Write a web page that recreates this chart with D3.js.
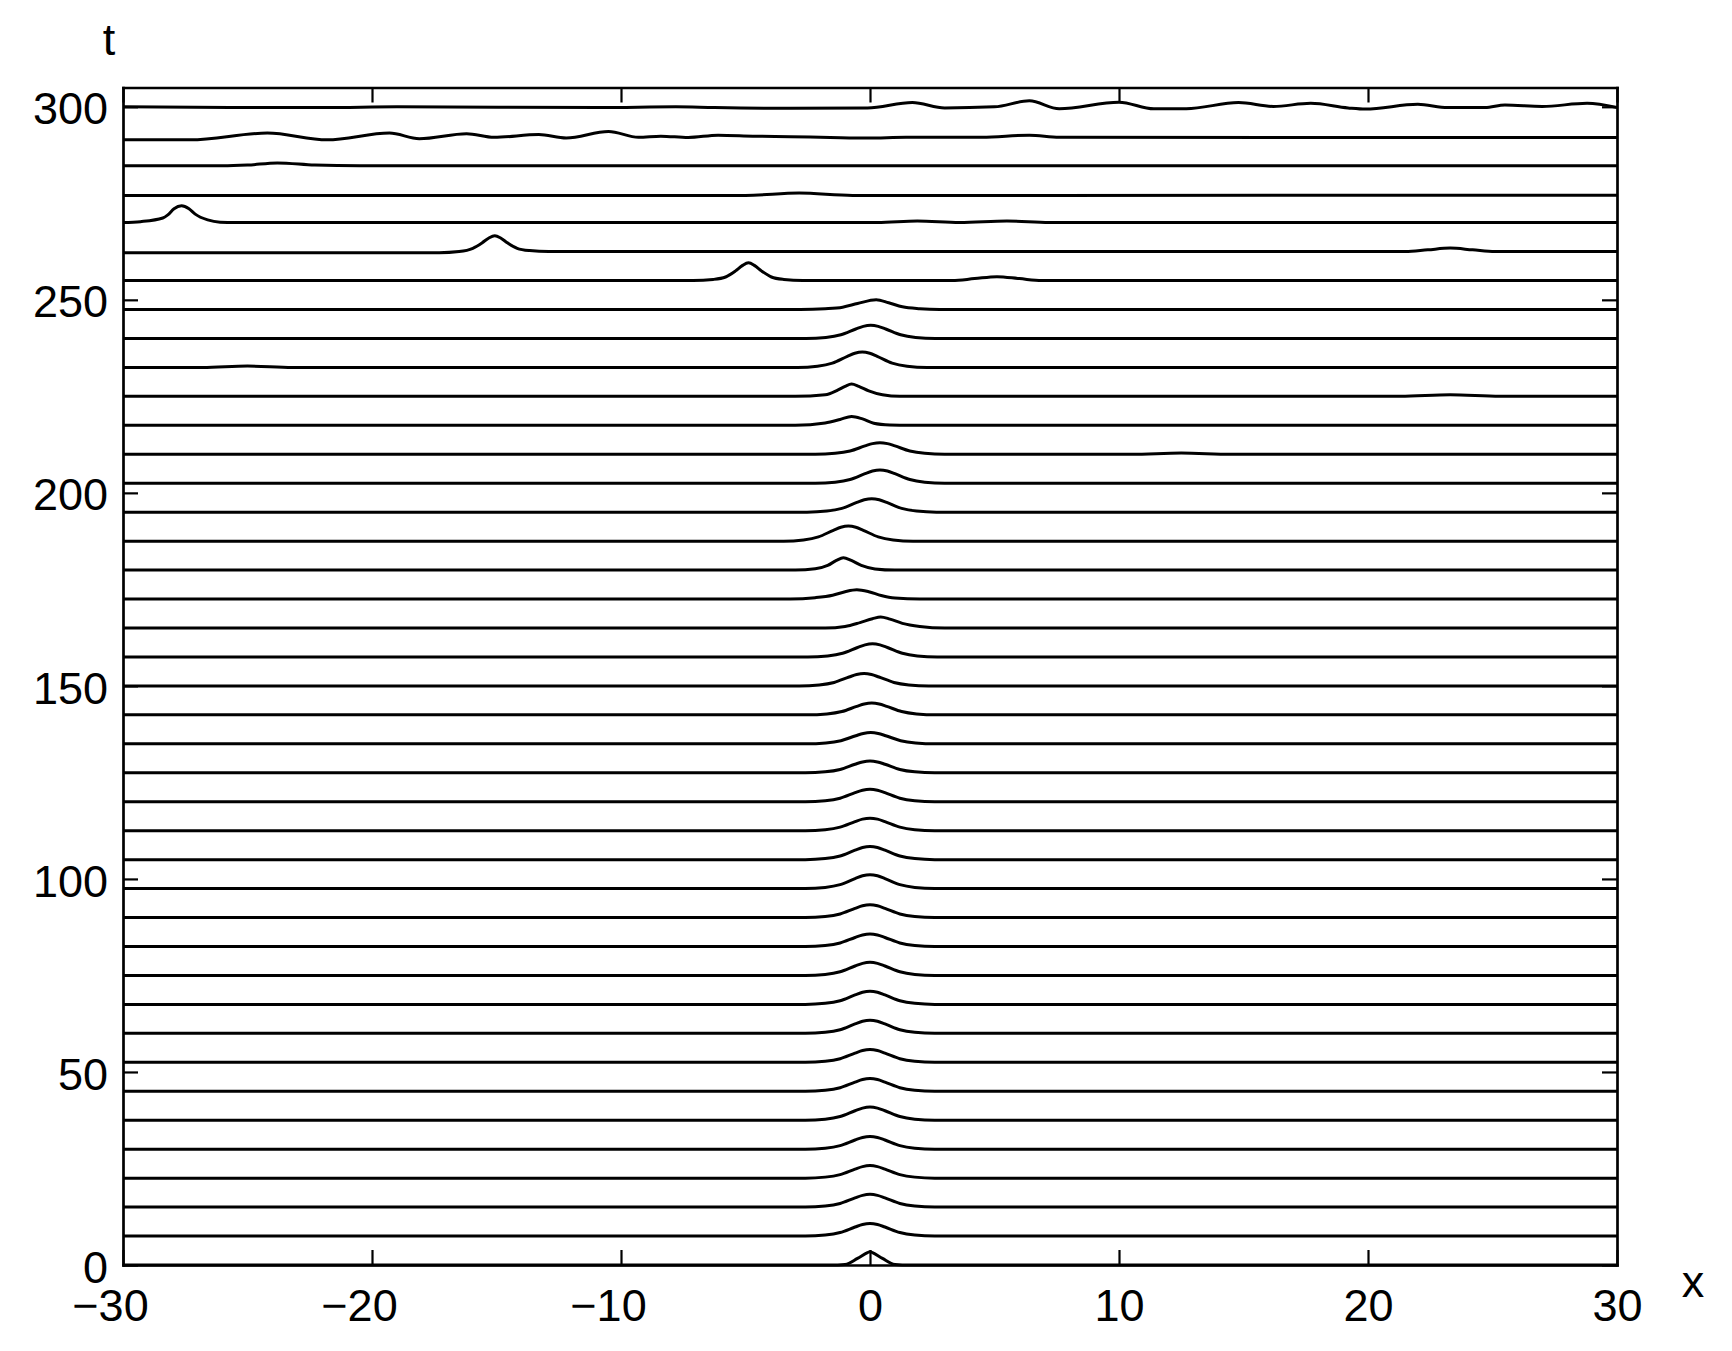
<!DOCTYPE html>
<html>
<head>
<meta charset="utf-8">
<script src="https://cdn.jsdelivr.net/npm/d3@7"></script>
<style>
  body { margin: 0; background: #fff; }
  svg text { font-family: "Liberation Sans", Arial, Helvetica, sans-serif; }
</style>
</head>
<body>
<div id="chart"></div>
<script>
// Baseline time of every trace, bottom to top
const times = [0, 7.5, 15, 22.5, 30, 37.5, 45, 52.5, 60, 67.5, 75, 82.5, 90, 97.5,
  105, 112.5, 120, 127.5, 135, 142.5, 150, 157.5, 165, 172.5, 180, 187.5, 195,
  202.5, 210, 217.5, 225, 232.5, 240, 247.5, 255, 262.5, 270, 277.5, 285, 292.5, 300];

// Each trace is a list of [x, height above its baseline]
// t = 0 ... 127.5 : single pulse sitting at x = 0
const tracesEarly = [
  [[-30,0],[-1.6,0],[-1.0,0.15],[-0.5,1.7],[-0.1,3.2],[0,3.45],[0.1,3.2],[0.5,1.7],[1.0,0.15],[1.6,0],[30,0]],
  [[-30,0],[-2.6,0],[-1.8,0.26],[-1.2,0.91],[-0.6,2.34],[-0.3,2.99],[0,3.25],[0.3,2.99],[0.6,2.34],[1.2,0.91],[1.8,0.26],[2.6,0],[30,0]],
  [[-30,0],[-2.6,0],[-1.8,0.26],[-1.2,0.92],[-0.6,2.38],[-0.3,3.04],[0,3.3],[0.3,3.04],[0.6,2.38],[1.2,0.92],[1.8,0.26],[2.6,0],[30,0]],
  [[-30,0],[-2.6,0],[-1.8,0.26],[-1.2,0.91],[-0.6,2.34],[-0.3,2.99],[0,3.25],[0.3,2.99],[0.6,2.34],[1.2,0.91],[1.8,0.26],[2.6,0],[30,0]],
  [[-30,0],[-2.6,0],[-1.8,0.26],[-1.2,0.92],[-0.6,2.38],[-0.3,3.04],[0,3.3],[0.3,3.04],[0.6,2.38],[1.2,0.92],[1.8,0.26],[2.6,0],[30,0]],
  [[-30,0],[-2.6,0],[-1.8,0.27],[-1.2,0.95],[-0.6,2.45],[-0.3,3.13],[0,3.4],[0.3,3.13],[0.6,2.45],[1.2,0.95],[1.8,0.27],[2.6,0],[30,0]],
  [[-30,0],[-2.6,0],[-1.8,0.26],[-1.2,0.92],[-0.6,2.38],[-0.3,3.04],[0,3.3],[0.3,3.04],[0.6,2.38],[1.2,0.92],[1.8,0.26],[2.6,0],[30,0]],
  [[-30,0],[-2.6,0],[-1.8,0.26],[-1.2,0.92],[-0.6,2.38],[-0.3,3.04],[0,3.3],[0.3,3.04],[0.6,2.38],[1.2,0.92],[1.8,0.26],[2.6,0],[30,0]],
  [[-30,0],[-2.6,0],[-1.8,0.27],[-1.2,0.95],[-0.6,2.45],[-0.3,3.13],[0,3.4],[0.3,3.13],[0.6,2.45],[1.2,0.95],[1.8,0.27],[2.6,0],[30,0]],
  [[-30,0],[-2.6,0],[-1.8,0.27],[-1.2,0.95],[-0.6,2.45],[-0.3,3.13],[0,3.4],[0.3,3.13],[0.6,2.45],[1.2,0.95],[1.8,0.27],[2.6,0],[30,0]],
  [[-30,0],[-2.6,0],[-1.8,0.27],[-1.2,0.95],[-0.6,2.45],[-0.3,3.13],[0,3.4],[0.3,3.13],[0.6,2.45],[1.2,0.95],[1.8,0.27],[2.6,0],[30,0]],
  [[-30,0],[-2.6,0],[-1.8,0.26],[-1.2,0.91],[-0.6,2.34],[-0.3,2.99],[0,3.25],[0.3,2.99],[0.6,2.34],[1.2,0.91],[1.8,0.26],[2.6,0],[30,0]],
  [[-30,0],[-2.6,0],[-1.8,0.26],[-1.2,0.92],[-0.6,2.38],[-0.3,3.04],[0,3.3],[0.3,3.04],[0.6,2.38],[1.2,0.92],[1.8,0.26],[2.6,0],[30,0]],
  [[-30,0],[-2.6,0],[-1.8,0.29],[-1.2,1.01],[-0.6,2.59],[-0.3,3.31],[0,3.6],[0.3,3.31],[0.6,2.59],[1.2,1.01],[1.8,0.29],[2.6,0],[30,0]],
  [[-30,0],[-2.6,0],[-1.8,0.27],[-1.2,0.95],[-0.6,2.45],[-0.3,3.13],[0,3.4],[0.3,3.13],[0.6,2.45],[1.2,0.95],[1.8,0.27],[2.6,0],[30,0]],
  [[-30,0],[-2.6,0],[-1.8,0.26],[-1.2,0.91],[-0.6,2.34],[-0.3,2.99],[0,3.25],[0.3,2.99],[0.6,2.34],[1.2,0.91],[1.8,0.26],[2.6,0],[30,0]],
  [[-30,0],[-2.6,0],[-1.8,0.26],[-1.2,0.91],[-0.6,2.34],[-0.3,2.99],[0,3.25],[0.3,2.99],[0.6,2.34],[1.2,0.91],[1.8,0.26],[2.6,0],[30,0]],
  [[-30,0],[-2.6,0],[-1.8,0.24],[-1.2,0.85],[-0.6,2.2],[-0.3,2.81],[0,3.05],[0.3,2.81],[0.6,2.2],[1.2,0.85],[1.8,0.24],[2.6,0],[30,0]]
];

// t = 135 ... 247.5 : pulse starts to wobble around x = 0
const tracesMid = [
  [[-30,0],[-2.57,0],[-1.77,0.23],[-1.17,0.81],[-0.57,2.09],[-0.27,2.67],[0.03,2.9],[0.33,2.67],[0.63,2.09],[1.23,0.81],[1.83,0.23],[2.63,0],[30,0]],
  [[-30,0],[-2.53,0],[-1.73,0.24],[-1.13,0.85],[-0.53,2.2],[-0.23,2.81],[0.07,3.05],[0.37,2.81],[0.67,2.2],[1.27,0.85],[1.87,0.24],[2.67,0],[30,0]],
  [[-30,0],[-2.84,0],[-2.04,0.26],[-1.44,0.9],[-0.84,2.3],[-0.54,2.94],[-0.24,3.2],[0.06,2.94],[0.36,2.3],[0.96,0.9],[1.56,0.26],[2.36,0],[30,0]],
  [[-30,0],[-2.5,0],[-1.7,0.27],[-1.1,0.95],[-0.5,2.45],[-0.2,3.13],[0.1,3.4],[0.4,3.13],[0.7,2.45],[1.3,0.95],[1.9,0.27],[2.7,0],[30,0]],
  [[-30,0],[-1.8,0],[-1.0,0.4],[-0.4,1.4],[0.1,2.4],[0.43,2.85],[0.8,2.3],[1.3,1.2],[2.0,0.4],[3.0,0],[30,0]],
  [[-30,0],[-3.2,0],[-2.2,0.35],[-1.5,1.0],[-1.0,1.9],[-0.53,2.4],[-0.05,1.9],[0.45,0.9],[1.0,0.25],[2.0,0],[30,0]],
  [[-30,0],[-3.0,0],[-2.2,0.35],[-1.7,1.2],[-1.35,2.5],[-1.07,3.2],[-0.75,2.5],[-0.35,1.2],[0.2,0.3],[1.0,0],[30,0]],
  [[-30,0],[-3.47,0],[-2.67,0.31],[-2.07,1.09],[-1.47,2.81],[-1.17,3.59],[-0.87,3.9],[-0.57,3.59],[-0.27,2.81],[0.33,1.09],[0.93,0.31],[1.73,0],[30,0]],
  [[-30,0],[-2.53,0],[-1.73,0.28],[-1.13,0.98],[-0.53,2.52],[-0.23,3.22],[0.07,3.5],[0.37,3.22],[0.67,2.52],[1.27,0.98],[1.87,0.28],[2.67,0],[30,0]],
  [[-30,0],[-2.2,0],[-1.4,0.28],[-0.8,0.97],[-0.2,2.48],[0.1,3.17],[0.4,3.45],[0.7,3.17],[1.0,2.48],[1.6,0.97],[2.2,0.28],[3.0,0],[30,0]],
  [[-30,0],[-2.2,0],[-1.4,0.24],[-0.8,0.84],[-0.2,2.16],[0.1,2.76],[0.4,3.0],[0.7,2.76],[1.0,2.16],[1.6,0.84],[2.2,0.24],[3.0,0],[10.5,0],[12.5,0.3],[14.5,0],[30,0]],
  [[-30,0],[-3.0,0],[-1.8,0.6],[-1.2,1.5],[-0.74,2.3],[-0.3,1.65],[0.15,0.55],[0.8,0.1],[1.6,0],[30,0]],
  [[-30,0],[-3.0,0],[-1.8,0.4],[-1.3,1.6],[-1.0,2.6],[-0.74,3.2],[-0.45,2.6],[-0.05,1.4],[0.5,0.4],[1.2,0],[21.3,0],[23.3,0.4],[25.3,0],[30,0]],
  [[-30,0],[-26.8,0],[-25,0.35],[-23.2,0],[-2.91,0],[-2.11,0.32],[-1.51,1.12],[-0.91,2.88],[-0.61,3.68],[-0.31,4.0],[-0.01,3.68],[0.29,2.88],[0.89,1.12],[1.49,0.32],[2.29,0],[30,0]],
  [[-30,0],[-2.57,0],[-1.77,0.27],[-1.17,0.95],[-0.57,2.45],[-0.27,3.13],[0.03,3.4],[0.33,3.13],[0.63,2.45],[1.23,0.95],[1.83,0.27],[2.63,0],[30,0]],
  [[-30,0],[-2.8,0],[-1.8,0.2],[-1.1,0.6],[-0.5,1.55],[0.25,2.55],[0.75,1.75],[1.3,0.7],[2.0,0.2],[2.8,0],[30,0]]
];

// t = 255 ... 300 : pulse breaks up and radiates
const tracesLate = [
  [[-30,0],[-7.1,0],[-6.3,0.28],[-5.8,0.92],[-5.4,2.5],[-5.13,3.86],[-4.88,4.6],[-4.63,3.86],[-4.36,2.5],[-3.96,0.92],[-3.46,0.28],[-2.7,0],[3.3,0],[4.2,0.5],[5.1,1.0],[6.0,0.5],[6.9,0],[30,0]],
  [[-30,-0.3],[-17.3,-0.3],[-16.5,0],[-15.95,0.85],[-15.57,2.3],[-15.32,3.45],[-15.07,4.1],[-14.82,3.45],[-14.57,2.3],[-14.17,0.85],[-13.67,0.25],[-12.9,0],[21.5,0],[22.4,0.45],[23.3,0.9],[24.2,0.45],[25.1,0],[30,0]],
  [[-30,0],[-29.3,0.25],[-28.4,1.2],[-28.2,2.0],[-27.95,3.6],[-27.65,4.35],[-27.35,3.6],[-27.1,2.2],[-26.6,0.7],[-26.1,0.1],[-25.5,0],[0.3,0],[1.9,0.4],[3.6,0],[5.5,0.4],[7.2,0],[30,0]],
  [[-30,-0.45],[-5,-0.45],[-2.85,0.15],[-0.7,-0.45],[30,-0.4]],
  [[-30,-0.3],[-26,-0.3],[-25,-0.1],[-23.8,0.45],[-22.3,-0.1],[-20.5,-0.3],[30,-0.3]],
  [[-30,-1.05],[-27.3,-1.05],[-24.2,0.7],[-21.8,-1.05],[-19.3,0.7],[-18.1,-0.75],[-16.2,0.55],[-15.1,-0.4],[-13.3,0.3],[-12.2,-0.6],[-10.5,1.1],[-9.3,-0.4],[-8.4,-0.1],[-7.3,-0.45],[-6.1,0.15],[-4.7,-0.1],[-3.2,-0.25],[-1.6,-0.45],[-0.1,-0.6],[1.45,-0.4],[4.5,-0.4],[6.4,0.15],[7.6,-0.4],[30,-0.45]],
  [[-30,0],[-25.7,-0.2],[-21.9,-0.2],[-19,0],[-10.85,-0.2],[-7.8,0],[-6.25,-0.2],[-3.2,-0.4],[-0.1,-0.3],[1.7,1.1],[3.0,-0.3],[5.0,0],[6.4,1.55],[7.6,-0.5],[10.0,1.2],[11.4,-0.5],[12.7,-0.5],[14.8,1.1],[16.2,0.1],[17.7,0.9],[19.2,-0.3],[19.9,-0.6],[22.0,0.65],[23.2,-0.2],[24.7,-0.2],[25.5,0.45],[27.0,0.1],[28.8,0.9],[30,-0.2]]
];

const xTicks = [-30, -20, -10, 0, 10, 20, 30];
const yTicks = [0, 50, 100, 150, 200, 250, 300];

const traces = tracesEarly.concat(tracesMid, tracesLate);

// Set up the dimensions and margins for the chart
const width = 1732;
const height = 1351;
const margin = { top: 87.5, right: 115, bottom: 86, left: 123 };
const fontSize = 45;

const x = d3.scaleLinear().domain([-30, 30]).range([margin.left, width - margin.right]);
const y = d3.scaleLinear().domain([0, 305]).range([height - margin.bottom, margin.top]);

const svg = d3.select("#chart")
  .append("svg")
  .attr("width", width)
  .attr("height", height);

svg.append("rect").attr("width", width).attr("height", height).attr("fill", "#fff");

// Draw the traces, each one lifted to its own time
const line = d3.line()
  .x(d => x(d[0]))
  .y(d => y(d[1]))
  .curve(d3.curveMonotoneX);

svg.append("g")
  .selectAll("path")
  .data(traces)
  .join("path")
  .attr("d", (p, i) => line(p.map(d => [d[0], times[i] + d[1]])))
  .attr("fill", "none")
  .attr("stroke", "#000")
  .attr("stroke-width", 3)
  .attr("stroke-linejoin", "round");

const fmt = d => (d < 0 ? "\u2212" + Math.abs(d) : String(d));

function styleAxis(g) {
  g.select(".domain").attr("stroke", "#000").attr("stroke-width", 2.7).attr("stroke-linecap", "square");
  g.selectAll(".tick line").attr("stroke", "#000").attr("stroke-width", 2.2);
  g.selectAll("text").attr("font-size", fontSize).attr("fill", "#000")
    .attr("font-family", "'Liberation Sans', Arial, Helvetica, sans-serif");
}

// Bottom axis
svg.append("g")
  .attr("transform", `translate(0, ${y(0)})`)
  .call(d3.axisBottom(x).tickValues(xTicks).tickSize(-15).tickSizeOuter(0).tickPadding(24).tickFormat(fmt))
  .call(styleAxis)
  .selectAll("text")
  .attr("dx", d => (d < 0 ? -13 : 0));

// Left axis
svg.append("g")
  .attr("transform", `translate(${x(-30)}, 0)`)
  .call(d3.axisLeft(y).tickValues(yTicks).tickSize(-15).tickSizeOuter(0).tickPadding(15).tickFormat(fmt))
  .call(styleAxis)
  .selectAll("text")
  .attr("dy", "0.38em");

// Top and right axes, ticks only
svg.append("g")
  .attr("transform", `translate(0, ${y(305)})`)
  .call(d3.axisTop(x).tickValues(xTicks).tickSize(-15).tickSizeOuter(0).tickFormat(""))
  .call(styleAxis);

svg.append("g")
  .attr("transform", `translate(${x(30)}, 0)`)
  .call(d3.axisRight(y).tickValues(yTicks).tickSize(-15).tickSizeOuter(0).tickFormat(""))
  .call(styleAxis);

// Axis labels
svg.append("text")
  .attr("x", 1693)
  .attr("y", 1297)
  .attr("text-anchor", "middle")
  .attr("font-size", fontSize)
  .text("x");

svg.append("text")
  .attr("x", 109)
  .attr("y", 55)
  .attr("text-anchor", "middle")
  .attr("font-size", fontSize)
  .text("t");
</script>
</body>
</html>
